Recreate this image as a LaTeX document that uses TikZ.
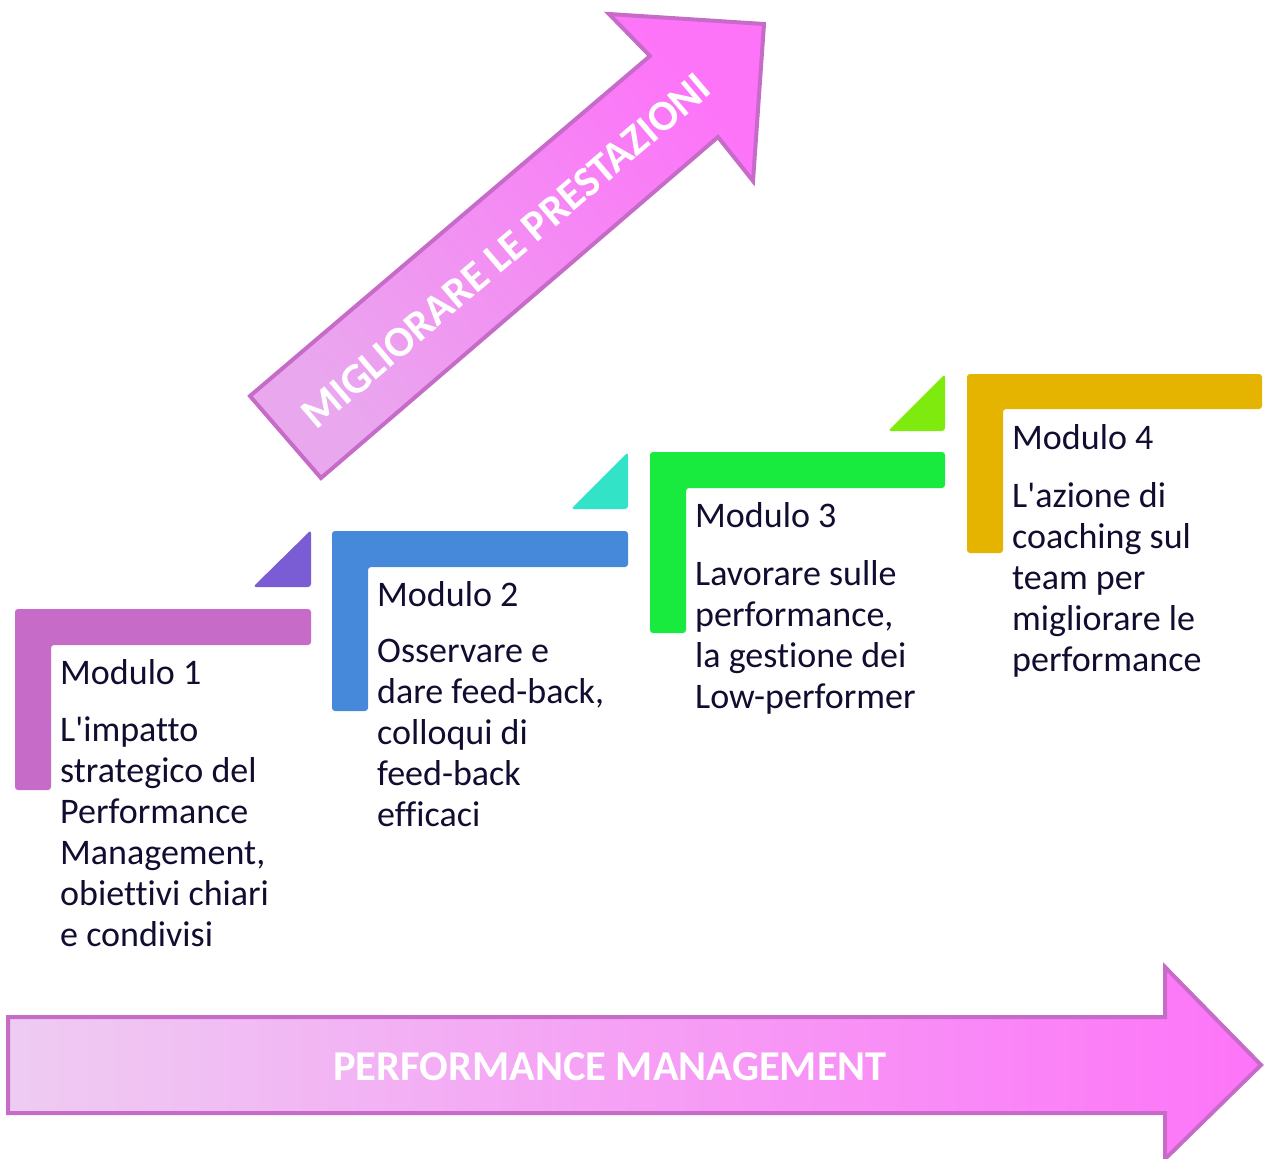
\documentclass[tikz,border=0pt]{standalone}
\usepackage{fontspec}
\setmainfont{Carlito}[Ligatures={TeX,NoCommon}]
\usepackage{tikz}
\usetikzlibrary{positioning}
\definecolor{ink}{HTML}{100D30}
\definecolor{edge}{HTML}{C66CC8}
\definecolor{pinkA}{HTML}{C66CC8}
\definecolor{violetA}{HTML}{7A5CD4}
\definecolor{blueA}{HTML}{4689DB}
\definecolor{tealA}{HTML}{33E3C8}
\definecolor{greenA}{HTML}{19EA3E}
\definecolor{limeA}{HTML}{7FEA0E}
\definecolor{goldA}{HTML}{E4B400}
\definecolor{arrowlight}{HTML}{EECCF2}
\definecolor{arrowmid}{HTML}{E9A8EE}
\definecolor{arrowdark}{HTML}{FD74F8}

\begin{document}
\begin{tikzpicture}[x=1pt, y=-1pt,
  every node/.style={inner sep=0pt},
  title/.style={font=\fontsize{36}{41}\selectfont, text=ink, anchor=west},
  body/.style={font=\fontsize{36}{41}\selectfont, text=ink, align=left},
  bigtext/.style={font=\bfseries\fontsize{42.5}{48}\selectfont, text=white},
  bar/.style={rounded corners=3pt}]
  \useasboundingbox (0,0) rectangle (1264,1159);

  % arrows
  \shade[left color=arrowlight, middle color=arrowmid, right color=arrowdark, draw=edge, line width=4pt]
    (8,1017) -- (1165,1017) -- (1165,967) -- (1261,1065) -- (1165,1159)
    -- (1165,1113) -- (8,1113) -- cycle;
  \node[bigtext] (pm) at (610,1067) {PERFORMANCE MANAGEMENT};

  \shade[left color=arrowmid, middle color=arrowdark, right color=arrowdark, shading angle=130,
    draw=edge, line width=4pt]
    (250,396) -- (650,56) -- (609,14) -- (764,24) -- (753,181) -- (718,137)
    -- (321,478) -- cycle;
  \node[bigtext, font=\bfseries\fontsize{43}{48}\selectfont, rotate=40.5] (mlp) at (506,251) {MIGLIORARE LE PRESTAZIONI};

  % step 1
  \fill[pinkA, bar] (15,609) -- (311,609) -- (311,645) -- (51,645) -- (51,790) -- (15,790) -- cycle;
  \fill[violetA, bar] (253,587) -- (311,530) -- (311,587) -- cycle;
  % step 2
  \fill[blueA, bar] (332,531) -- (628,531) -- (628,567) -- (368,567) -- (368,711) -- (332,711) -- cycle;
  \fill[tealA, bar] (571,509) -- (628,452) -- (628,509) -- cycle;
  % step 3
  \fill[greenA, bar] (650,452) -- (945,452) -- (945,488) -- (686,488) -- (686,633) -- (650,633) -- cycle;
  \fill[limeA, bar] (888,431) -- (945,374) -- (945,431) -- cycle;
  % step 4
  \fill[goldA, bar] (967,374) -- (1262,374) -- (1262,409) -- (1003,409) -- (1003,553) -- (967,553) -- cycle;

  % texts
  \node[title] (m1) at (60,672) {Modulo 1};
  \node[body, below right=32pt and 0pt of m1.south west] (t1)
    {L\textquotesingle impatto\\strategico del\\Performance\\Management,\\obiettivi chiari\\e condivisi};
  \node[title] (m2) at (377,594) {Modulo 2};
  \node[body, below right=32pt and 0pt of m2.south west] (t2)
    {Osservare e\\dare feed-back,\\colloqui di\\feed-back\\efficaci};
  \node[title] (m3) at (695,515) {Modulo 3};
  \node[body, below right=32pt and 0pt of m3.south west] (t3)
    {Lavorare sulle\\performance,\\la gestione dei\\Low-performer};
  \node[title] (m4) at (1012,437) {Modulo 4};
  \node[body, below right=32pt and 0pt of m4.south west] (t4)
    {L\textquotesingle azione di\\coaching sul\\team per\\migliorare le\\performance};
\end{tikzpicture}
\end{document}
